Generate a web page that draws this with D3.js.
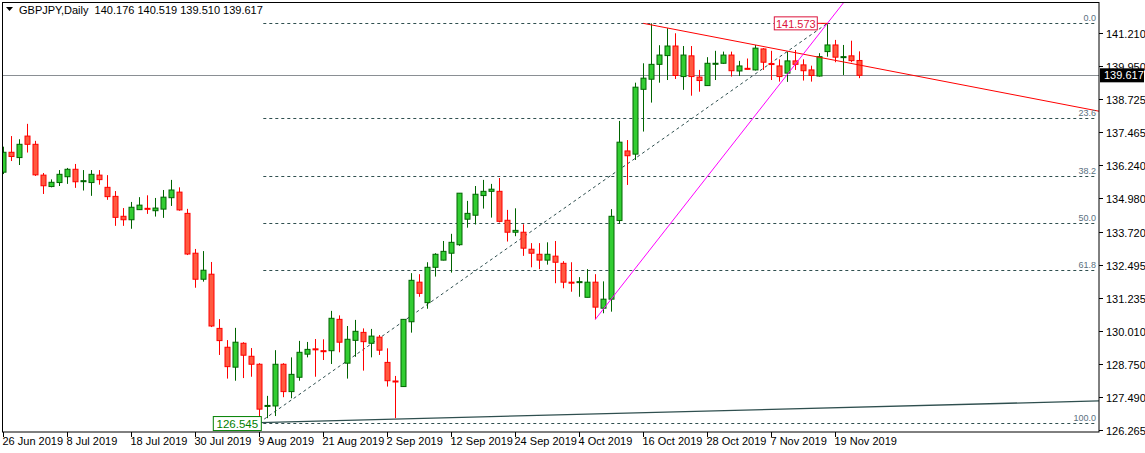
<!DOCTYPE html>
<html><head><meta charset="utf-8">
<script src="https://cdn.jsdelivr.net/npm/d3@7"></script>
<style>body{margin:0;background:#fff}svg{display:block}</style>
</head><body><svg id="c" width="1145" height="453"></svg>
<script>
// OHLC per daily bar, 26 Jun 2019 .. 22 Nov 2019
const opens=[135.97,136.72,136.52,137.33,137.02,135.86,135.43,135.58,135.80,136.08,135.64,135.58,135.86,135.40,135.06,134.31,134.18,134.56,134.61,134.52,134.58,135.01,135.22,134.42,132.92,131.94,132.13,130.09,129.38,128.63,129.53,129.04,128.74,127.17,127.17,128.74,127.71,128.25,129.12,129.32,129.25,129.25,130.43,128.78,129.64,129.94,129.53,129.76,128.81,128.11,127.90,130.34,131.83,131.06,132.39,132.66,132.92,133.24,134.20,134.35,135.09,135.25,135.25,134.16,133.71,133.71,133.07,132.88,132.66,132.81,132.54,131.83,131.84,131.26,131.83,130.85,131.19,134.15,136.77,136.65,139.09,139.47,140.03,140.36,140.72,139.57,140.35,139.55,139.23,140.06,140.07,140.38,139.78,139.88,139.82,140.61,140.06,139.97,139.70,140.16,140.01,139.82,139.59,140.51,140.76,140.31,140.35,140.176];
const highs=[136.93,137.33,137.21,137.79,137.15,135.94,135.70,136.05,136.13,136.28,136.05,136.05,136.05,135.86,135.26,134.62,134.85,135.03,135.10,135.00,135.30,135.68,135.40,134.59,133.08,133.00,132.59,130.44,129.65,130.11,129.57,129.35,128.78,127.55,129.27,128.78,129.00,129.62,129.58,129.69,129.68,130.75,130.58,130.18,130.41,130.09,130.07,129.84,129.34,128.30,130.44,132.17,132.13,132.58,132.92,133.38,133.65,135.18,134.89,135.45,135.68,135.53,135.75,134.55,134.61,134.01,133.30,133.30,133.33,133.38,132.62,132.58,132.02,132.32,132.13,131.86,134.58,137.90,137.18,139.34,140.07,141.573,140.75,141.39,141.20,140.72,140.72,139.82,140.30,140.54,140.51,140.51,140.16,140.25,140.76,140.64,140.54,140.22,140.51,140.57,140.22,139.98,140.45,141.54,140.95,140.76,140.92,140.519];
const lows=[135.90,136.39,136.24,136.71,135.83,135.15,135.40,135.45,135.53,135.38,135.28,135.08,135.50,134.93,133.95,133.95,133.84,134.55,134.40,134.30,134.25,134.70,134.52,132.85,131.62,131.85,130.14,129.09,128.20,128.12,128.22,128.27,126.545,126.71,126.79,127.50,127.46,128.12,129.00,128.27,128.90,128.75,129.19,128.20,129.02,128.50,129.00,129.09,127.90,126.71,127.89,129.93,131.28,130.83,132.04,132.65,132.19,133.20,133.88,134.00,134.60,134.26,134.08,133.36,133.56,132.82,132.39,132.32,132.49,131.79,131.60,131.47,131.28,131.26,130.43,130.66,130.72,134.02,135.49,136.43,137.50,138.59,139.34,139.44,139.48,139.07,138.85,139.00,139.22,139.44,140.05,139.57,139.59,139.84,139.80,139.82,139.44,139.38,139.37,139.82,139.42,139.38,139.57,140.32,140.11,139.63,140.11,139.510];
const closes=[136.72,136.56,137.02,137.02,135.87,135.46,135.59,135.89,136.08,135.61,135.65,135.89,135.69,135.05,134.27,134.18,134.65,134.73,134.59,134.62,135.03,135.30,134.55,132.89,131.94,132.28,130.18,129.63,128.65,129.57,129.08,128.74,127.05,127.19,128.74,127.71,128.36,129.19,129.30,129.31,129.24,130.47,129.57,129.68,129.98,129.59,129.80,129.27,128.12,128.10,130.43,131.90,131.41,132.39,132.88,132.99,133.33,135.18,134.42,135.14,135.25,135.33,134.12,133.71,133.78,133.11,132.92,132.66,132.88,132.58,131.83,131.82,131.85,131.83,130.89,131.19,134.31,137.10,136.59,139.17,139.51,140.03,140.38,140.72,139.61,140.38,139.57,139.42,140.07,140.07,140.38,139.79,139.97,139.86,140.64,140.11,140.05,139.57,140.16,140.03,139.79,139.61,140.32,140.76,140.30,140.32,140.17,139.617];
const dateLabels=["26 Jun 2019","8 Jul 2019","18 Jul 2019","30 Jul 2019","9 Aug 2019","21 Aug 2019","2 Sep 2019","12 Sep 2019","24 Sep 2019","4 Oct 2019","16 Oct 2019","28 Oct 2019","7 Nov 2019","19 Nov 2019"];
const dateLabelBars=[0,8,16,24,32,40,48,56,64,72,80,88,96,104];
const priceTicks=[141.210,139.950,138.725,137.465,136.240,134.980,133.720,132.495,131.235,130.010,128.750,127.490,126.265];
const fibLevels=[0,23.6,38.2,50.0,61.8,100];
const fibHigh=141.573, fibLow=126.545, fibStartBar=32;
const lastPrice=139.617;
const trendDark=[[32,126.545],[137,127.36]];
const trendMagenta=[[74,130.43],[103,141.57]];
const trendRed=[[80,141.573],[108.3,139.93]];
const fibDiag=[[32,126.545],[103,141.573]];
const title="GBPJPY,Daily  140.176 140.519 139.510 139.617";

const svg=d3.select("#c");
const F="'Liberation Sans', Arial, sans-serif";
const right=1099, bottom=432;
const x=d3.scaleLinear().domain([0,107]).range([3.3,859.3]);
const y=d3.scaleLinear().domain([126.265,141.210]).range([430,33]);
const fmt=d3.format(".3f");
svg.append("clipPath").attr("id","cp").append("rect").attr("x",3).attr("y",3).attr("width",right-3).attr("height",bottom-3);
const g=svg.append("g").attr("clip-path","url(#cp)");
const slate="#2f4f4f";

const fibX0=x(fibStartBar)+4;
fibLevels.forEach(l=>{
  const p=fibHigh-(fibHigh-fibLow)*l/100, yy=Math.round(y(p))+0.5;
  g.append("line").attr("x1",fibX0).attr("x2",right-2).attr("y1",yy).attr("y2",yy).attr("stroke",slate).attr("stroke-dasharray","3,3");
  svg.append("text").attr("x",right-3).attr("y",yy-3).attr("text-anchor","end").attr("font-family",F).attr("font-size",9).attr("fill","#5a7080").text(l.toFixed(1));
});
function seg(pts,col,dash,w,extend){
  let [a,b]=pts; let x1=x(a[0]),y1=y(a[1]),x2=x(b[0]),y2=y(b[1]);
  if(extend){const k=(y2-y1)/(x2-x1); const xe=2000; y2=y1+k*(xe-x1); x2=xe;}
  const l=g.append("line").attr("x1",x1).attr("y1",y1).attr("x2",x2).attr("y2",y2).attr("stroke",col).attr("stroke-width",w||1);
  if(dash)l.attr("stroke-dasharray",dash);
}
seg(fibDiag,slate,"3,3",1,false);
seg(trendDark,slate,null,1.3,true);
g.append("line").attr("x1",0).attr("x2",right).attr("y1",Math.round(y(lastPrice))+0.5).attr("y2",Math.round(y(lastPrice))+0.5).attr("stroke","#8a8f94");

const data=opens.map((o,i)=>({i,o,h:highs[i],l:lows[i],c:closes[i]}));
const cg=g.append("g");
data.forEach(d=>{
  const up=d.c>=d.o, cx=Math.round(x(d.i))+0.5;
  const wc=up?"#006400":"#ff0000";
  cg.append("line").attr("x1",cx).attr("x2",cx).attr("y1",y(d.h)).attr("y2",y(d.l)).attr("stroke",wc);
  const t=y(Math.max(d.o,d.c)), b=y(Math.min(d.o,d.c));
  cg.append("rect").attr("x",cx-2.5).attr("y",t).attr("width",5).attr("height",Math.max(1,b-t))
    .attr("fill",up?"#32cd32":"#ff5a40").attr("stroke",up?"#006400":"#ff0000");
});
seg(trendRed,"#ff0000",null,1,true);
seg(trendMagenta,"#ff00ff",null,1,true);

{const bx=x(103), by=y(fibHigh);
 g.append("path").attr("d",`M${bx-10},${by}H${bx}V${y(highs[103])}`).attr("stroke","#ff0000").attr("fill","none");
 g.append("rect").attr("x",bx-53).attr("y",by-6.5).attr("width",43).attr("height",13).attr("fill","#fff").attr("stroke","#dc143c");
 g.append("text").attr("x",bx-31.5).attr("y",by+4.5).attr("text-anchor","middle").attr("font-family",F).attr("font-size",11).attr("fill","#dc143c").text(fmt(fibHigh));}
{const bx=x(32), by=y(fibLow);
 g.append("rect").attr("x",bx-46).attr("y",by-6).attr("width",48).attr("height",14).attr("fill","#fff").attr("stroke","#008000");
 g.append("text").attr("x",bx-22).attr("y",by+5).attr("text-anchor","middle").attr("font-family",F).attr("font-size",11.5).attr("fill","#008000").text(fmt(fibLow));}

svg.append("rect").attr("x",2.5).attr("y",2.5).attr("width",right-2.5).attr("height",bottom-2.5).attr("fill","none").attr("stroke","#000");
svg.append("rect").attr("x",3).attr("y",3).attr("width",225).attr("height",15).attr("fill","#fff");
svg.append("path").attr("d","M6,7H13L9.5,11Z").attr("fill","#000");
svg.append("text").attr("x",19).attr("y",14).attr("font-family",F).attr("font-size",11).attr("fill","#000").attr("xml:space","preserve").text(title);

priceTicks.forEach(p=>{
  const yy=Math.round(y(p))+0.5;
  svg.append("line").attr("x1",right).attr("x2",right+4).attr("y1",yy).attr("y2",yy).attr("stroke","#000");
  svg.append("text").attr("x",right+7).attr("y",yy+4).attr("font-family",F).attr("font-size",11).attr("fill","#000").text(fmt(p));
});
{const yy=y(lastPrice);
 svg.append("rect").attr("x",right+1).attr("y",yy-7).attr("width",44).attr("height",14).attr("fill","#000");
 svg.append("text").attr("x",right+5).attr("y",yy+4).attr("font-family",F).attr("font-size",11).attr("fill","#fff").text(fmt(lastPrice));}

dateLabels.forEach((s,k)=>{
  const xx=Math.round(x(dateLabelBars[k]))+0.5;
  svg.append("line").attr("x1",xx).attr("x2",xx).attr("y1",bottom).attr("y2",bottom+5).attr("stroke","#000");
  svg.append("text").attr("x",xx-1).attr("y",bottom+13).attr("font-family",F).attr("font-size",11).attr("fill","#000").text(s);
});
</script></body></html>
